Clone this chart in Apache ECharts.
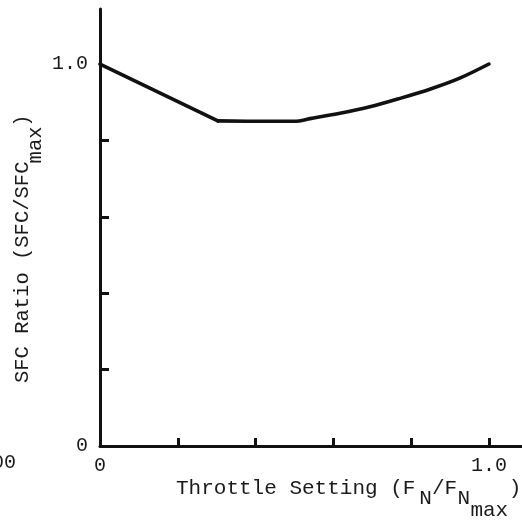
<!DOCTYPE html>
<html>
<head>
<meta charset="utf-8">
<script src="https://cdn.jsdelivr.net/npm/echarts@6/dist/echarts.min.js"></script>
<style>
  html, body { margin: 0; padding: 0; background: #fff; }
  #chart { width: 522px; height: 524px; }
</style>
</head>
<body>
<div id="chart"></div>
<script>
// Throttle setting (F_N / F_N max) against SFC ratio (SFC / SFC max)
// straight fall from full ratio down to the knee
const throttleFall = [0.0, 0.303];
const sfcFall = [1.0, 0.851];
// flat stretch then the rise back to full ratio at full throttle
const throttleRise = [0.303, 0.437, 0.501, 0.540, 0.617, 0.694, 0.771, 0.848, 0.925, 1.0];
const sfcRise = [0.851, 0.850, 0.850, 0.857, 0.871, 0.888, 0.910, 0.934, 0.963, 1.0];

const xTickValues = [0.2, 0.4, 0.6, 0.8, 1.0];
const yTickValues = [0.2, 0.4, 0.6, 0.8];
const xLabelValues = [0, 1.0];
const yLabelValues = [0, 1.0];

const FONT = '"Liberation Mono", "DejaVu Sans Mono", monospace';
const INK = '#111';
const TEXT = '#1a1a1a';

// title pieces: [text, baseline drop]
const xTitleParts = [['Throttle Setting (F', 0], ['N', 10], ['/F', 0], ['N', 10], ['max', 22], [')', 0]];
const yTitleParts = [['SFC Ratio (SFC/SFC', 0], ['max', 13], [')', 0]];

const chart = echarts.init(document.getElementById('chart'), null, { renderer: 'canvas' });

// lay a run of monospace pieces out one after another, dropping subscripts
function runOfText(parts, fontSize, advance) {
  const children = [];
  let x = 0;
  parts.forEach(([str, drop]) => {
    children.push({
      type: 'text',
      x: x, y: drop,
      style: {
        text: str, fill: TEXT,
        font: fontSize + 'px ' + FONT,
        align: 'left', verticalAlign: 'middle'
      }
    });
    x += str.length * advance;
  });
  return children;
}

const fmt = v => (v === 0 ? '0' : v.toFixed(1));
const curveStyle = { color: INK, width: 3.6, cap: 'round', join: 'round' };

chart.setOption({
  animation: false,
  backgroundColor: '#fff',
  grid: { left: 100, right: 0, top: 9, bottom: 78, containLabel: false },
  xAxis: {
    type: 'value', min: 0, max: 1.085, interval: 0.2,
    axisLine: { show: true, lineStyle: { color: INK, width: 3 } },
    axisTick: { show: true, inside: true, length: 8, customValues: xTickValues,
      lineStyle: { color: INK, width: 3 } },
    axisLabel: { show: true, customValues: xLabelValues, formatter: fmt, margin: 10,
      color: TEXT, fontFamily: FONT, fontSize: 20 },
    splitLine: { show: false }
  },
  yAxis: {
    type: 'value', min: 0, max: 1.144, interval: 0.2,
    axisLine: { show: true, lineStyle: { color: INK, width: 3 } },
    axisTick: { show: true, inside: true, length: 9, customValues: yTickValues,
      lineStyle: { color: INK, width: 3 } },
    axisLabel: { show: true, customValues: yLabelValues, formatter: fmt, margin: 12,
      color: TEXT, fontFamily: FONT, fontSize: 20 },
    splitLine: { show: false }
  },
  series: [
    {
      type: 'line',
      data: throttleFall.map((t, i) => [t, sfcFall[i]]),
      showSymbol: false,
      lineStyle: curveStyle
    },
    {
      type: 'line',
      data: throttleRise.map((t, i) => [t, sfcRise[i]]),
      showSymbol: false,
      smooth: 0.3,
      lineStyle: curveStyle
    }
  ],
  graphic: [
    { type: 'group', x: 176, y: 488, children: runOfText(xTitleParts, 21, 12.8) },
    { type: 'group', x: 23, y: 383, rotation: Math.PI / 2, children: runOfText(yTitleParts, 20.5, 12.2) },
    { type: 'text', x: 16, y: 463,
      style: { text: '00', fill: TEXT, font: '20px ' + FONT, align: 'right', verticalAlign: 'middle' } }
  ]
});
</script>
</body>
</html>
